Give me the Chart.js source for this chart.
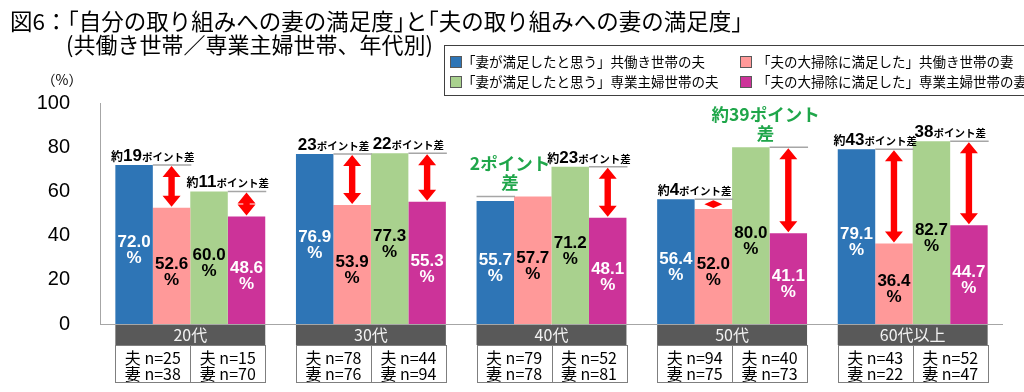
<!DOCTYPE html>
<html>
<head>
<meta charset="utf-8">
<script src="https://cdn.jsdelivr.net/npm/chart.js@4.4.0/dist/chart.umd.min.js"></script>
<style>
  html, body { margin: 0; padding: 0; background: #fff; }
</style>
</head>
<body>
<canvas id="chart" width="1024" height="392"></canvas>
<script>
// 年代
const ageGroups = ['20代', '30代', '40代', '50代', '60代以上'];

const seriesLabels = [
  '「妻が満足したと思う」共働き世帯の夫',
  '「夫の大掃除に満足した」共働き世帯の妻',
  '「妻が満足したと思う」専業主婦世帯の夫',
  '「夫の大掃除に満足した」専業主婦世帯の妻'
];
const seriesColors = ['#2E75B6', '#FF9999', '#A9D18E', '#CC3399'];
const labelColors = ['#fff', '#000', '#000', '#fff'];

// 値 (%)
const dualHusband = [72.0, 76.9, 55.7, 56.4, 79.1];
const dualWife = [52.6, 53.9, 57.7, 52.0, 36.4];
const singleHusband = [60.0, 77.3, 71.2, 80.0, 82.7];
const singleWife = [48.6, 55.3, 48.1, 41.1, 44.7];

const yTicks = [0, 20, 40, 60, 80, 100];

// ポイント差の注記
const gapDual = ['約19', '23', '2', '約4', '約43'];
const gapSingle = ['約11', '22', '約23', '約39', '38'];
const gapDualGreen = [false, false, true, false, false];
const gapSingleGreen = [false, false, false, true, false];

// サンプル数
const nDualHusband = [25, 78, 79, 94, 43];
const nDualWife = [38, 76, 78, 75, 22];
const nSingleHusband = [15, 44, 52, 40, 52];
const nSingleWife = [70, 94, 81, 73, 47];

const JP = '"Noto Sans CJK JP", "Noto Sans", sans-serif';
const NUM = '"Liberation Sans", Arial, sans-serif';

// かぎ括弧を半角幅に詰めて描く (left 揃え)
function fillPalt(ctx, text, x, y, em) {
  for (const ch of text) {
    if (ch === '「') {
      ctx.fillText(ch, x - em / 2, y);
      x += em / 2;
    } else if (ch === '」') {
      ctx.fillText(ch, x, y);
      x += em / 2;
    } else {
      ctx.fillText(ch, x, y);
      x += ctx.measureText(ch).width;
    }
  }
}

function drawArrow(ctx, x, y1, y2) {
  const hw = 9, sw = 3.2;
  const hl = Math.min(11, (y2 - y1) / 2);
  ctx.beginPath();
  ctx.moveTo(x, y1);
  ctx.lineTo(x + hw, y1 + hl);
  ctx.lineTo(x + sw, y1 + hl);
  ctx.lineTo(x + sw, y2 - hl);
  ctx.lineTo(x + hw, y2 - hl);
  ctx.lineTo(x, y2);
  ctx.lineTo(x - hw, y2 - hl);
  ctx.lineTo(x - sw, y2 - hl);
  ctx.lineTo(x - sw, y1 + hl);
  ctx.lineTo(x - hw, y1 + hl);
  ctx.closePath();
  ctx.fillStyle = '#FF0000';
  ctx.fill();
}

function drawGapText(ctx, cx, lineY, label, green) {
  if (green) {
    ctx.fillStyle = '#1FA64A';
    ctx.font = 'bold 17.5px ' + JP;
    ctx.textAlign = 'center';
    ctx.textBaseline = 'middle';
    ctx.fillText(label + 'ポイント', cx - 4, lineY - 33);
    ctx.fillText('差', cx - 4, lineY - 14);
    return;
  }
  const pre = label.startsWith('約') ? '約' : '';
  const num = label.replace('約', '');
  const parts = [
    { t: pre, f: 'bold 12px ' + JP },
    { t: num, f: 'bold 17px ' + NUM },
    { t: 'ポイント差', f: 'bold 10.5px ' + JP }
  ];
  let total = 0;
  parts.forEach(p => { ctx.font = p.f; p.w = ctx.measureText(p.t).width; total += p.w; });
  let x = cx - total / 2;
  ctx.fillStyle = '#000';
  ctx.textAlign = 'left';
  ctx.textBaseline = 'alphabetic';
  parts.forEach(p => {
    ctx.font = p.f;
    ctx.fillText(p.t, x, lineY - 4);
    x += p.w;
  });
}

const decorations = {
  id: 'decorations',
  afterDatasetsDraw(chart) {
    const ctx = chart.ctx;
    const metas = [0, 1, 2, 3].map(i => chart.getDatasetMeta(i));
    ctx.save();

    // 棒の中の数値
    metas.forEach((meta, di) => {
      meta.data.forEach((bar, i) => {
        const v = chart.data.datasets[di].data[i];
        const cy = (bar.y + bar.base) / 2 + 6;
        ctx.fillStyle = labelColors[di];
        ctx.font = 'bold 17px ' + NUM;
        ctx.textAlign = 'center';
        ctx.textBaseline = 'middle';
        ctx.fillText(v.toFixed(1), bar.x, cy - 8);
        ctx.fillText('%', bar.x, cy + 8);
      });
    });

    // ポイント差
    const pairs = [[0, 1, gapDual, gapDualGreen], [2, 3, gapSingle, gapSingleGreen]];
    ageGroups.forEach((g, i) => {
      pairs.forEach(([a, b, texts, greens]) => {
        const ba = metas[a].data[i], bb = metas[b].data[i];
        const hi = ba.y <= bb.y ? ba : bb;
        const lo = hi === ba ? bb : ba;
        ctx.strokeStyle = '#A6A6A6';
        ctx.lineWidth = 1.5;
        ctx.beginPath();
        ctx.moveTo(lo.x - lo.width / 2, hi.y);
        ctx.lineTo(lo.x + lo.width / 2 + 1, hi.y);
        ctx.stroke();
        if (hi === ba) drawArrow(ctx, lo.x, hi.y + 1, lo.y - 1);
        const cx = ba.x + ba.width / 2;
        drawGapText(ctx, cx, hi.y, texts[i], greens[i]);
      });
    });

    // 基線
    const area = chart.chartArea;
    ctx.strokeStyle = '#A6A6A6';
    ctx.lineWidth = 1;
    ctx.beginPath();
    ctx.moveTo(area.left, area.bottom + 0.5);
    ctx.lineTo(area.right, area.bottom + 0.5);
    ctx.stroke();

    // 年代ラベルとサンプル数の表
    ageGroups.forEach((g, i) => {
      const first = metas[0].data[i], last = metas[3].data[i], mid = metas[1].data[i];
      const left = first.x - first.width / 2;
      const right = last.x + last.width / 2;
      const split = mid.x + mid.width / 2;
      ctx.fillStyle = '#595959';
      ctx.fillRect(left, 325, right - left, 20);
      ctx.fillStyle = '#F2F2F2';
      ctx.font = '16px ' + JP;
      ctx.textAlign = 'center';
      ctx.textBaseline = 'middle';
      ctx.fillText(g, (left + right) / 2, 335);

      ctx.strokeStyle = '#7F7F7F';
      ctx.lineWidth = 1;
      ctx.strokeRect(Math.round(left) + 0.5, 345.5, Math.round(split - left), 37);
      ctx.strokeRect(Math.round(split) + 0.5, 345.5, Math.round(right - split), 37);
      ctx.fillStyle = '#000';
      ctx.font = '16px ' + JP;
      ctx.fillText('夫 n=' + nDualHusband[i], (left + split) / 2, 358);
      ctx.fillText('妻 n=' + nDualWife[i], (left + split) / 2, 374);
      ctx.fillText('夫 n=' + nSingleHusband[i], (split + right) / 2, 358);
      ctx.fillText('妻 n=' + nSingleWife[i], (split + right) / 2, 374);
    });

    // (%)
    ctx.fillStyle = '#000';
    ctx.font = '14px ' + JP;
    ctx.textAlign = 'center';
    ctx.fillText('（%）', 62, 80);

    // タイトル
    ctx.textAlign = 'left';
    ctx.font = '22.5px ' + JP;
    fillPalt(ctx, '図6：「自分の取り組みへの妻の満足度」と「夫の取り組みへの妻の満足度」', 10, 21, 22.5);
    ctx.font = '22px ' + JP;
    ctx.fillText('(共働き世帯／専業主婦世帯、年代別)', 66, 45);

    // 凡例
    ctx.fillStyle = '#fff';
    ctx.fillRect(444, 45, 600, 50);
    ctx.strokeStyle = '#404040';
    ctx.strokeRect(444.5, 45.5, 600, 50);
    ctx.font = '13.5px ' + JP;
    ctx.textBaseline = 'middle';
    const cols = [450, 740, 450, 740];
    const rows = [62, 62, 82, 82];
    seriesLabels.forEach((t, k) => {
      ctx.fillStyle = seriesColors[k];
      ctx.fillRect(cols[k], rows[k] - 6, 12, 12);
      ctx.strokeStyle = '#595959';
      ctx.strokeRect(cols[k] + 0.5, rows[k] - 5.5, 11, 11);
      ctx.fillStyle = '#000';
      ctx.fillText(t, cols[k] + (k % 2 ? 17 : 12), rows[k]);
    });

    ctx.restore();
  }
};

new Chart(document.getElementById('chart').getContext('2d'), {
  type: 'bar',
  data: {
    labels: ageGroups,
    datasets: [dualHusband, dualWife, singleHusband, singleWife].map((d, k) => ({
      label: seriesLabels[k],
      data: d,
      backgroundColor: seriesColors[k],
      borderWidth: 0,
      categoryPercentage: 0.83,
      barPercentage: 1
    }))
  },
  options: {
    responsive: false,
    animation: false,
    devicePixelRatio: 1,
    layout: { padding: { top: 103, bottom: 68, left: 0, right: 21 } },
    plugins: { legend: { display: false }, tooltip: { enabled: false } },
    scales: {
      x: { display: false },
      y: {
        min: 0,
        max: 100,
        afterBuildTicks: s => { s.ticks = yTicks.map(v => ({ value: v })); },
        afterFit: s => { s.width = 100; },
        grid: { display: false },
        border: { display: true, color: '#A6A6A6' },
        ticks: { padding: 22, color: '#000', font: { family: NUM, size: 20 } }
      }
    }
  },
  plugins: [decorations]
});
</script>
</body>
</html>
